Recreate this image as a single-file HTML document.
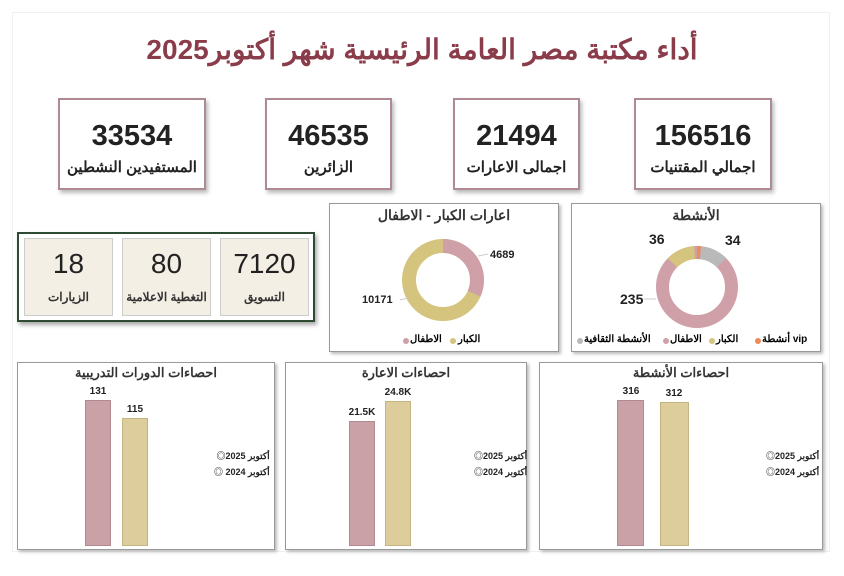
<!DOCTYPE html>
<html><head><meta charset="utf-8"><style>
body{margin:0;width:844px;height:576px;background:#fff;position:relative;overflow:hidden;font-family:"Liberation Sans","Noto Sans CJK SC",sans-serif;}
.a{position:absolute;box-sizing:border-box;}
.kpi{border:2px solid #b08a92;background:#fff;box-shadow:2px 3px 4px #bbb;text-align:center;}
.kpi .n{font-size:29px;font-weight:bold;color:#222;margin-top:20px;line-height:32px;font-family:"Liberation Sans Narrow","Liberation Sans",sans-serif;}
.kpi .l{font-size:15px;font-weight:bold;color:#222;margin-top:6px;direction:rtl;}
.sm{background:#f4efe4;border:1px solid #ccc;text-align:center;}
.sm .n{font-size:28px;color:#222;margin-top:9px;line-height:32px;}
.sm .l{font-size:12px;font-weight:bold;color:#333;margin-top:10px;direction:rtl;}
.pan{border:1px solid #999;background:#fff;box-shadow:2px 2px 3px #bbb;}
.t{font-size:13px;font-weight:bold;color:#333;direction:rtl;text-align:center;}
.bar{position:absolute;box-sizing:border-box;}
.pk{background:#c9a1a7;border:1px solid #b08a90;}
.bg{background:#ddcd9c;border:1px solid #c4b47f;}
.v{position:absolute;font-size:10px;font-weight:bold;color:#222;text-align:center;width:40px;}
.lg{position:absolute;font-size:9px;font-weight:bold;color:#222;direction:rtl;line-height:16px;}
</style></head><body>
<div class="a" style="left:12px;top:12px;width:818px;height:540px;border:1px solid #f0f0f0;"></div>
<div class="a" style="left:0;top:33px;width:844px;text-align:center;font-size:28px;font-weight:bold;color:#8a3c4a;direction:rtl;">أداء مكتبة مصر العامة الرئيسية شهر أكتوبر2025</div>

<div class="a kpi" style="left:58px;top:98px;width:148px;height:92px;"><div class="n">33534</div><div class="l">المستفيدين النشطين</div></div>
<div class="a kpi" style="left:265px;top:98px;width:127px;height:92px;"><div class="n">46535</div><div class="l">الزائرين</div></div>
<div class="a kpi" style="left:453px;top:98px;width:127px;height:92px;"><div class="n">21494</div><div class="l">اجمالى الاعارات</div></div>
<div class="a kpi" style="left:634px;top:98px;width:138px;height:92px;"><div class="n">156516</div><div class="l">اجمالي المقتنيات</div></div>

<div class="a" style="left:17px;top:232px;width:298px;height:90px;border:2px solid #2f4a32;box-shadow:2px 3px 4px #aaa;"></div>
<div class="a sm" style="left:24px;top:238px;width:89px;height:78px;"><div class="n">18</div><div class="l">الزيارات</div></div>
<div class="a sm" style="left:122px;top:238px;width:89px;height:78px;"><div class="n">80</div><div class="l">التغطية الاعلامية</div></div>
<div class="a sm" style="left:220px;top:238px;width:89px;height:78px;"><div class="n">7120</div><div class="l">التسويق</div></div>

<div class="a pan" style="left:329px;top:203px;width:230px;height:149px;"><div class="t" style="font-size:14px;margin-top:3px;">اعارات الكبار - الاطفال</div></div>
<div class="a pan" style="left:571px;top:203px;width:250px;height:149px;"><div class="t" style="font-size:14px;margin-top:3px;">الأنشطة</div></div>
<svg class="a" style="left:0;top:0" width="844" height="576">
<circle cx="443" cy="280" r="34" fill="none" stroke="#d5c47e" stroke-width="14"/>
<circle cx="443" cy="280" r="34" fill="none" stroke="#cfa0a8" stroke-width="14" stroke-dasharray="67.4 300" transform="rotate(-90 443 280)"/>
<line x1="478" y1="256" x2="488" y2="254" stroke="#ccc"/>
<line x1="400" y1="300" x2="408" y2="298" stroke="#ccc"/>
<text x="490" y="258" font-size="11" font-weight="bold" fill="#222" font-family="Liberation Sans">4689</text>
<text x="362" y="303" font-size="11" font-weight="bold" fill="#222" font-family="Liberation Sans">10171</text>
<g transform="rotate(-90 697 287)">
<circle cx="697" cy="287" r="34.5" fill="none" stroke="#cfa0a8" stroke-width="13"/>
<circle cx="697" cy="287" r="34.5" fill="none" stroke="#ec8a5a" stroke-width="13" stroke-dasharray="3.5 300"/>
<circle cx="697" cy="287" r="34.5" fill="none" stroke="#b9b9b9" stroke-width="13" stroke-dasharray="0 3.5 23.6 300"/>
<circle cx="697" cy="287" r="34.5" fill="none" stroke="#d5c47e" stroke-width="13" stroke-dasharray="0 189.1 24.8 300"/>
</g>
<text x="725" y="245" font-size="14" font-weight="bold" fill="#222" font-family="Liberation Sans">34</text>
<text x="649" y="244" font-size="14" font-weight="bold" fill="#222" font-family="Liberation Sans">36</text>
<text x="620" y="304" font-size="14" font-weight="bold" fill="#222" font-family="Liberation Sans">235</text>
<line x1="644" y1="299" x2="656" y2="299" stroke="#ccc"/>
<circle cx="406" cy="341" r="3" fill="#cfa0a8"/><circle cx="453" cy="341" r="3" fill="#d5c47e"/>
<circle cx="580" cy="341" r="3" fill="#b9b9b9"/><circle cx="666" cy="341" r="3" fill="#cfa0a8"/><circle cx="712" cy="341" r="3" fill="#d5c47e"/><circle cx="758" cy="341" r="3" fill="#ec8a5a"/>
</svg>
<div class="a" style="left:410px;top:334px;font-size:10px;font-weight:bold;direction:rtl;">الاطفال</div>
<div class="a" style="left:458px;top:334px;font-size:10px;font-weight:bold;direction:rtl;">الكبار</div>
<div class="a" style="left:584px;top:334px;font-size:10px;font-weight:bold;direction:rtl;">الأنشطة الثقافية</div>
<div class="a" style="left:670px;top:334px;font-size:10px;font-weight:bold;direction:rtl;">الاطفال</div>
<div class="a" style="left:716px;top:334px;font-size:10px;font-weight:bold;direction:rtl;">الكبار</div>
<div class="a" style="left:762px;top:334px;font-size:10px;font-weight:bold;direction:rtl;">vip أنشطة</div>

<div class="a pan" style="left:17px;top:362px;width:258px;height:188px;"><div class="t" style="margin-top:2px;">احصاءات الدورات التدريبية</div></div>
<div class="a pan" style="left:285px;top:362px;width:242px;height:188px;"><div class="t" style="margin-top:2px;">احصاءات الاعارة</div></div>
<div class="a pan" style="left:539px;top:362px;width:284px;height:188px;"><div class="t" style="margin-top:2px;">احصاءات الأنشطة</div></div>

<div class="bar pk" style="left:85px;top:400px;width:26px;height:146px;"></div>
<div class="bar bg" style="left:122px;top:418px;width:26px;height:128px;"></div>
<div class="v" style="left:78px;top:386px;">131</div><div class="v" style="left:115px;top:404px;">115</div>
<div class="bar pk" style="left:349px;top:421px;width:26px;height:125px;"></div>
<div class="bar bg" style="left:385px;top:401px;width:26px;height:145px;"></div>
<div class="v" style="left:342px;top:407px;">21.5K</div><div class="v" style="left:378px;top:387px;">24.8K</div>
<div class="bar pk" style="left:617px;top:400px;width:27px;height:146px;"></div>
<div class="bar bg" style="left:660px;top:402px;width:29px;height:144px;"></div>
<div class="v" style="left:611px;top:386px;">316</div><div class="v" style="left:654px;top:388px;">312</div>

<div class="lg" style="left:214px;top:448px;">أكتوبر 2025◎<br>أكتوبر 2024 ◎</div>
<div class="lg" style="left:474px;top:448px;">أكتوبر 2025◎<br>أكتوبر 2024◎</div>
<div class="lg" style="left:766px;top:448px;">أكتوبر 2025◎<br>أكتوبر 2024◎</div>
</body></html>
